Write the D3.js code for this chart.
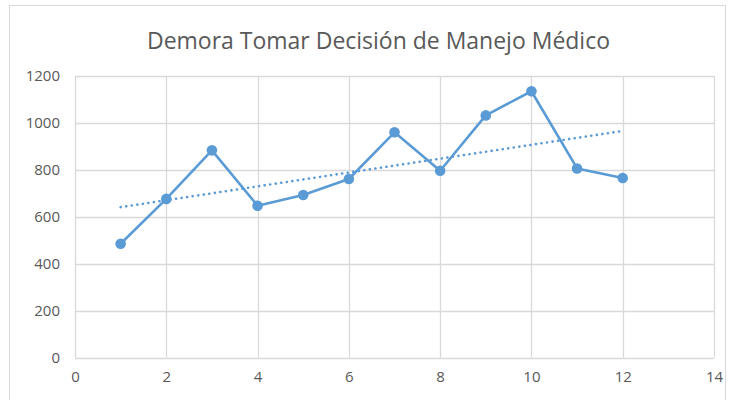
<!DOCTYPE html>
<html>
<head>
<meta charset="utf-8">
<script src="https://cdn.jsdelivr.net/npm/d3@7"></script>
<style>
  body { margin: 0; background: #fff; }
  text { font-family: "Open Sans", sans-serif; fill: #595959; }
</style>
</head>
<body>
<div id="chart"></div>
<script>
// datos
const xs = [1, 2, 3, 4, 5, 6, 7, 8, 9, 10, 11, 12];
const demora = [485, 676, 883, 647, 693, 761, 960, 796, 1032, 1135, 806, 765];
const xTicks = [0, 2, 4, 6, 8, 10, 12, 14];
const yTicks = [0, 200, 400, 600, 800, 1000, 1200];

const width = 729, height = 400;
const m = { left: 75, right: 15, top: 76, bottom: 42.5 };

const svg = d3.select("#chart").append("svg")
    .attr("width", width)
    .attr("height", height);

// marco del grafico
svg.append("rect")
    .attr("x", 9.5).attr("y", 5.5)
    .attr("width", 716).attr("height", 420)
    .attr("fill", "none")
    .attr("stroke", "#d9d9d9");

const x = d3.scaleLinear().domain([0, 14]).range([m.left, width - m.right]);
const y = d3.scaleLinear().domain([0, 1200]).range([height - m.bottom, m.top]);

// rejilla
svg.append("g")
    .selectAll("line.h")
    .data(yTicks)
    .enter().append("line")
    .attr("x1", x(0)).attr("x2", x(14))
    .attr("y1", d => Math.round(y(d)) + 0.5).attr("y2", d => Math.round(y(d)) + 0.5)
    .attr("stroke", "#d9d9d9")
    .attr("stroke-width", 1.3);

svg.append("g")
    .selectAll("line.v")
    .data(xTicks)
    .enter().append("line")
    .attr("x1", d => Math.round(x(d)) + 0.5).attr("x2", d => Math.round(x(d)) + 0.5)
    .attr("y1", y(1200)).attr("y2", y(0))
    .attr("stroke", "#d9d9d9")
    .attr("stroke-width", 1.3);

// etiquetas de ejes
const yAxis = svg.append("g")
    .attr("transform", `translate(${m.left - 15},0)`)
    .call(d3.axisLeft(y).tickValues(yTicks).tickFormat(d3.format("d")).tickSize(0).tickPadding(0));
yAxis.select(".domain").remove();
yAxis.selectAll("text").style("font-size", "15px").attr("fill", "#595959");

const xAxis = svg.append("g")
    .attr("transform", `translate(0,${y(0) + 14})`)
    .call(d3.axisBottom(x).tickValues(xTicks).tickSize(0).tickPadding(0));
xAxis.select(".domain").remove();
xAxis.selectAll("text").style("font-size", "15px").attr("fill", "#595959");

// linea de tendencia lineal (minimos cuadrados)
const mx = d3.mean(xs), my = d3.mean(demora);
const slope = d3.sum(xs, (v, i) => (v - mx) * (demora[i] - my)) / d3.sum(xs, v => (v - mx) * (v - mx));
const icpt = my - slope * mx;
const trend = [xs[0], xs[xs.length - 1]].map(v => [v, icpt + slope * v]);

svg.append("path")
    .datum(trend)
    .attr("d", d3.line().x(d => x(d[0])).y(d => y(d[1])))
    .attr("fill", "none")
    .attr("stroke", "#5b9bd5")
    .attr("stroke-width", 2.6)
    .attr("stroke-linecap", "round")
    .attr("stroke-dasharray", "0.1 5.5");

// serie
const pts = xs.map((v, i) => [v, demora[i]]);
svg.append("path")
    .datum(pts)
    .attr("d", d3.line().x(d => x(d[0])).y(d => y(d[1])))
    .attr("fill", "none")
    .attr("stroke", "#5b9bd5")
    .attr("stroke-width", 2.6)
    .attr("stroke-linejoin", "round");

svg.append("g")
    .selectAll("circle")
    .data(pts)
    .enter().append("circle")
    .attr("cx", d => x(d[0]))
    .attr("cy", d => y(d[1]))
    .attr("r", 5.3)
    .attr("fill", "#5b9bd5");

// titulo
svg.append("text")
    .attr("x", 378.5)
    .attr("y", 49)
    .attr("text-anchor", "middle")
    .attr("textLength", 463)
    .attr("lengthAdjust", "spacingAndGlyphs")
    .style("font-size", "23px")
    .text("Demora Tomar Decisión de Manejo Médico");
</script>
</body>
</html>
